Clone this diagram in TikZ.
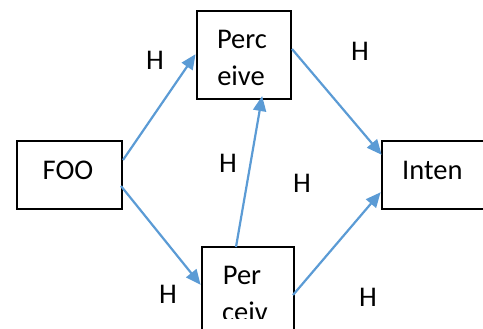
\documentclass[tikz,border=0pt]{standalone}
\usepackage{fontspec}
\setmainfont{Carlito}
\usetikzlibrary{arrows.meta}
\definecolor{linkblue}{HTML}{5B9BD5}
\tikzset{
  box/.style={draw=black, line width=2.2pt, rectangle, anchor=north west, inner sep=0pt},
  txt/.style={font=\fontsize{28.5}{36}\selectfont, inner sep=0pt, anchor=base},
  hlabel/.style={font=\fontsize{28.5}{36}\selectfont, inner sep=0pt, anchor=base},
  link/.style={draw=linkblue, line width=2.2pt, -{Triangle[length=15pt,width=13pt]}, shorten >=-1pt}
}
\begin{document}
\begin{tikzpicture}[x=1pt,y=-1pt]
\useasboundingbox (0,0) rectangle (483,329);
% boxes
\node[box, minimum width=105pt, minimum height=68pt] (foo) at (16,140) {};
\node[box, minimum width=94pt, minimum height=88pt] (perc) at (196,10) {};
\node[box, minimum width=120pt, minimum height=68pt] (inten) at (381,140) {};
\node[box, minimum width=92pt, minimum height=90pt] (perc2) at (201,246) {};
% box texts
\node[txt] (fooT) at (68,179) {FOO};
\node[txt] (percT1) at (242,49) {Perc};
\node[txt] (percT2) at (241,86) {eive};
\node[txt, anchor=base west] (intenT) at (402,179) {Inten};
\node[txt] (perc2T1) at (242,284) {Per};
\begin{scope}
  \clip (201,246) rectangle (293,318);
  \node[txt] (perc2T2) at (245,321) {ceiv};
\end{scope}
% edge labels
\node[hlabel] (h1) at (155,70) {H};
\node[hlabel] (h2) at (360,61) {H};
\node[hlabel] (h3) at (228,173) {H};
\node[hlabel] (h4) at (302,193) {H};
\node[hlabel] (h5) at (168,303) {H};
\node[hlabel] (h6) at (368,306) {H};
% connectors
\coordinate (a1s) at (123,160);
\coordinate (a1e) at (195,55);
\coordinate (a2s) at (121,186);
\coordinate (a2e) at (200,284);
\coordinate (a3s) at (292,49);
\coordinate (a3e) at (381,154);
\coordinate (a4s) at (236,247);
\coordinate (a4e) at (262,97);
\coordinate (a5s) at (293,295);
\coordinate (a5e) at (380,193);
\draw[link] (a1s) -- (a1e);
\draw[link] (a2s) -- (a2e);
\draw[link] (a3s) -- (a3e);
\draw[link] (a4s) -- (a4e);
\draw[link] (a5s) -- (a5e);
\end{tikzpicture}
\end{document}
